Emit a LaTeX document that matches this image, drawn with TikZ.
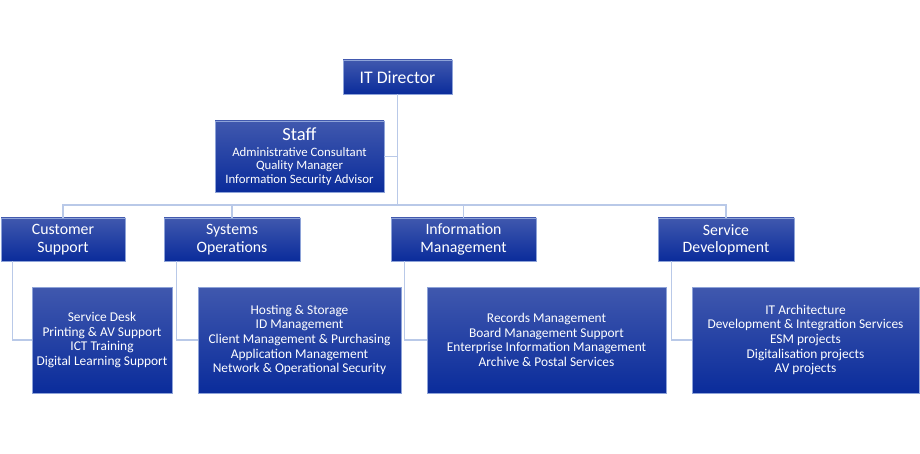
\documentclass[tikz,border=0pt]{standalone}
\usepackage{fontspec}
\setmainfont{Carlito}
\usetikzlibrary{calc}
\definecolor{boxtop}{HTML}{4058AE}
\definecolor{boxbot}{HTML}{0A2C9B}
\definecolor{boxline}{HTML}{8EA3D8}
\definecolor{linkline}{HTML}{B9C9E8}
\begin{document}
\begin{tikzpicture}[x=1pt,y=-1pt,
        box/.style={draw=boxline, line width=.6pt, top color=boxtop, bottom color=boxbot,
                    text=white, align=center, inner sep=0pt},
        head/.style={box, minimum height=43pt, font=\fontsize{15.8}{17.3}\selectfont},
        list/.style={box, minimum height=106pt, font=\fontsize{13.4}{14.7}\selectfont},
        link/.style={draw=linkline, line width=1.1pt}]
        \useasboundingbox(0,0)rectangle(920,454);

        % top
        \node[box,minimum width=109pt,minimum height=34pt,font=\fontsize{17.7}{20}\selectfont](dir)at(397.5,77){IT Director};
        \node[box,minimum width=169pt,minimum height=71pt,font=\fontsize{12.8}{13.3}\selectfont](staff)at(299.5,156.5)
             {{\fontsize{18.5}{19}\selectfont Staff}\\[2.5pt]
              Administrative Consultant\\Quality Manager\\Information Security Advisor};
        \coordinate (bus) at (0,205);

        % groups
        \node[head,minimum width=124pt](cs)at( 63  ,239.5){Customer\\Support};
        \node[head,minimum width=136pt](so)at(232  ,239.5){Systems\\Operations};
        \node[head,minimum width=145pt](im)at(463.5,239.5){Information\\Management};
        \node[head,minimum width=136pt](sd)at(726  ,239.5){Service\\Development};

        % tasks
        \node[list,minimum width=140pt](cstask)at(102  ,340){Service Desk\\Printing \& AV Support\\ICT Training\\Digital Learning Support};
        \node[list,minimum width=203pt](sotask)at(299.5,340){Hosting \& Storage\\ID Management\\Client Management \& Purchasing\\Application Management\\Network \& Operational Security};
        \node[list,minimum width=239pt](imtask)at(546.5,340){Records Management\\Board Management Support\\Enterprise Information Management\\Archive \& Postal Services};
        \node[list,minimum width=227pt](sdtask)at(805.5,340){IT Architecture\\Development \& Integration Services\\ESM projects\\Digitalisation projects\\AV projects};

        % links
        \draw[link](dir.south)--(dir.south|-bus);
        \draw[link](staff.east)--(staff.east-|dir.south);
        \draw[link](cs.north)--(cs.north|-bus)--(sd.north|-bus)--(sd.north);
        \draw[link](so.north)--(so.north|-bus);
        \draw[link](im.north)--(im.north|-bus);
        \draw[link]([xshift=12pt]cs.south west)|-(cstask.west);
        \draw[link]([xshift=13pt]so.south west)|-(sotask.west);
        \draw[link]([xshift=14pt]im.south west)|-(imtask.west);
        \draw[link]([xshift=14pt]sd.south west)|-(sdtask.west);
\end{tikzpicture}
\end{document}
